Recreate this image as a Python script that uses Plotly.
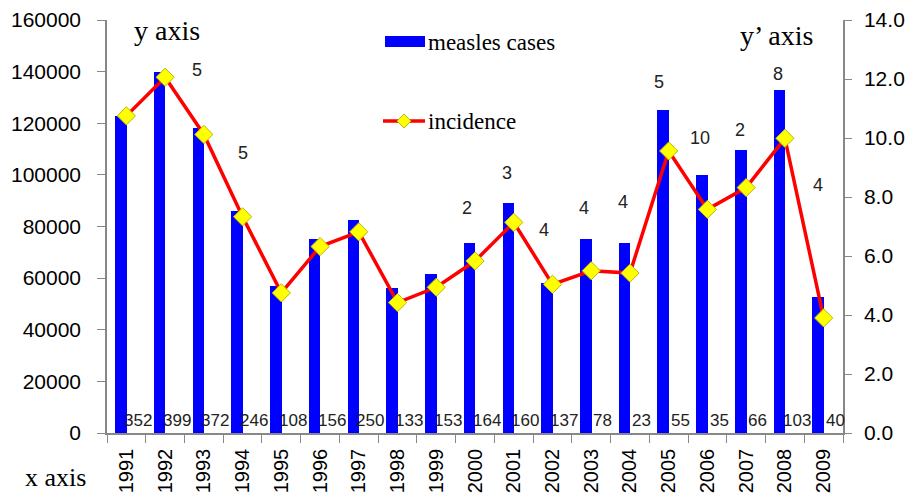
import plotly.graph_objects as go

years = [str(y) for y in range(1991, 2010)]
cases = [123000, 140000, 118000, 86000, 57000, 75000, 82500, 56300, 61500, 73500,
         89000, 58000, 75000, 73500, 125000, 100000, 109500, 133000, 52800]
incidence = [10.75, 12.06, 10.12, 7.33, 4.75, 6.32, 6.82, 4.42, 4.94, 5.83,
             7.14, 5.04, 5.50, 5.42, 9.56, 7.58, 8.32, 9.99, 3.90]
bottom_labels = ["352", "399", "372", "246", "108", "156", "250", "133", "153", "164",
                 "160", "137", "78", "23", "55", "35", "66", "103", "40"]
# small numbers shown above some years: (year, text, height on case axis)
note_years = ["1992", "1994", "2000", "2001", "2002", "2003", "2004", "2005", "2006", "2007", "2008", "2009"]
note_texts = ["5", "5", "2", "3", "4", "4", "4", "5", "10", "2", "8", "4"]
note_heights = [140600, 108500, 87200, 100700, 78600, 87200, 89500, 136000, 114300, 117400, 139100, 96100]
note_shift = [0.83, 0, -0.2, -0.17, -0.23, -0.18, -0.17, -0.26, -0.2, -0.15, -0.18, -0.15]

sans = "Liberation Sans, Arial, sans-serif"
tick_font = dict(family=sans, size=21, color="black")
serif = "Liberation Serif, Times New Roman, serif"

fig = go.Figure()
fig.add_trace(go.Bar(x=years, y=cases, marker=dict(color="#0000FF", line=dict(width=0)),
                     width=0.3, offset=-0.29, name="measles cases", showlegend=False))
fig.add_trace(go.Scatter(x=years, y=incidence, yaxis="y2", mode="lines+markers",
                         line=dict(color="#FF0000", width=3.5),
                         marker=dict(symbol="diamond", size=14, color="#FFFF00",
                                     line=dict(color="#B8B800", width=1)),
                         name="incidence", showlegend=False, cliponaxis=False))

annotations = []
for i, t in enumerate(bottom_labels):
    annotations.append(dict(x=i + 0.3, y=0, xref="x", yref="y", text=t, showarrow=False,
                            xanchor="center", yanchor="bottom", yshift=1,
                            font=dict(family=sans, size=17, color="#222")))
for yr, t, h, s in zip(note_years, note_texts, note_heights, note_shift):
    annotations.append(dict(x=years.index(yr) + s, y=h, xref="x", yref="y", text=t, showarrow=False,
                            xanchor="center", yanchor="middle",
                            font=dict(family=sans, size=18, color="#222")))

def px(xp):
    return (xp - 107) / 736

def py(yp):
    return (433 - yp) / 413

# axis captions
annotations.append(dict(x=px(55), y=py(477), xref="paper", yref="paper", text="x axis", showarrow=False,
                        xanchor="center", yanchor="middle",
                        font=dict(family=serif, size=26, color="black")))
annotations.append(dict(x=px(167), y=py(30), xref="paper", yref="paper", text="y axis", showarrow=False,
                        xanchor="center", yanchor="middle",
                        font=dict(family=serif, size=28, color="black")))
annotations.append(dict(x=px(776), y=py(35), xref="paper", yref="paper", text="y\u2019 axis", showarrow=False,
                        xanchor="center", yanchor="middle",
                        font=dict(family=serif, size=28, color="black")))
# manual legend
annotations.append(dict(x=px(426), y=py(42), xref="paper", yref="paper",
                        text="measles cases", showarrow=False, xanchor="left", yanchor="middle",
                        font=dict(family=serif, size=23, color="black")))
annotations.append(dict(x=px(426), y=py(121), xref="paper", yref="paper",
                        text="incidence", showarrow=False, xanchor="left", yanchor="middle",
                        font=dict(family=serif, size=23, color="black")))

shapes = [
    dict(type="rect", xref="paper", yref="paper", x0=px(385), x1=px(425), y0=py(47), y1=py(36),
         fillcolor="#0000FF", line=dict(width=0)),
    dict(type="line", xref="paper", yref="paper", x0=px(383), x1=px(425), y0=py(121), y1=py(121),
         line=dict(color="#FF0000", width=3.5)),
    dict(type="path", xref="paper", yref="paper",
         path=f"M {px(397)} {py(121)} L {px(404)} {py(114)} L {px(411)} {py(121)} L {px(404)} {py(128)} Z",
         fillcolor="#FFFF00", line=dict(color="#B8B800", width=1)),
]

fig.update_layout(
    width=910, height=499,
    margin=dict(l=107, r=67, t=20, b=66),
    paper_bgcolor="white", plot_bgcolor="white",
    bargap=0,
    xaxis=dict(type="category", range=[-0.5, 18.5], tickson="boundaries", ticks="outside",
               ticklen=8, tickcolor="#888", showline=True, linecolor="#888", linewidth=1.5,
               tickangle=-90, tickfont=dict(family=sans, size=20, color="black"),
               ticklabelstandoff=6,
               showgrid=False, zeroline=False, automargin=False),
    yaxis=dict(range=[0, 160000], dtick=20000, ticks="outside", ticklen=8, tickcolor="#888",
               showline=True, linecolor="#888", linewidth=1.5, showgrid=False, zeroline=False,
               tickfont=tick_font, tickformat="d", automargin=False, ticklabelstandoff=12),
    yaxis2=dict(range=[0, 14], dtick=2, tickformat=".1f", overlaying="y", side="right",
                ticks="outside", ticklen=7, tickcolor="#888", showline=True, linecolor="#888",
                linewidth=1.5, showgrid=False, zeroline=False, tickfont=tick_font, automargin=False,
                ticklabelstandoff=8),
    annotations=annotations,
    shapes=shapes,
)

fig.write_html("out.html", config={"displayModeBar": False},
               post_script="document.body.style.margin='0';document.body.style.overflow='hidden';")
